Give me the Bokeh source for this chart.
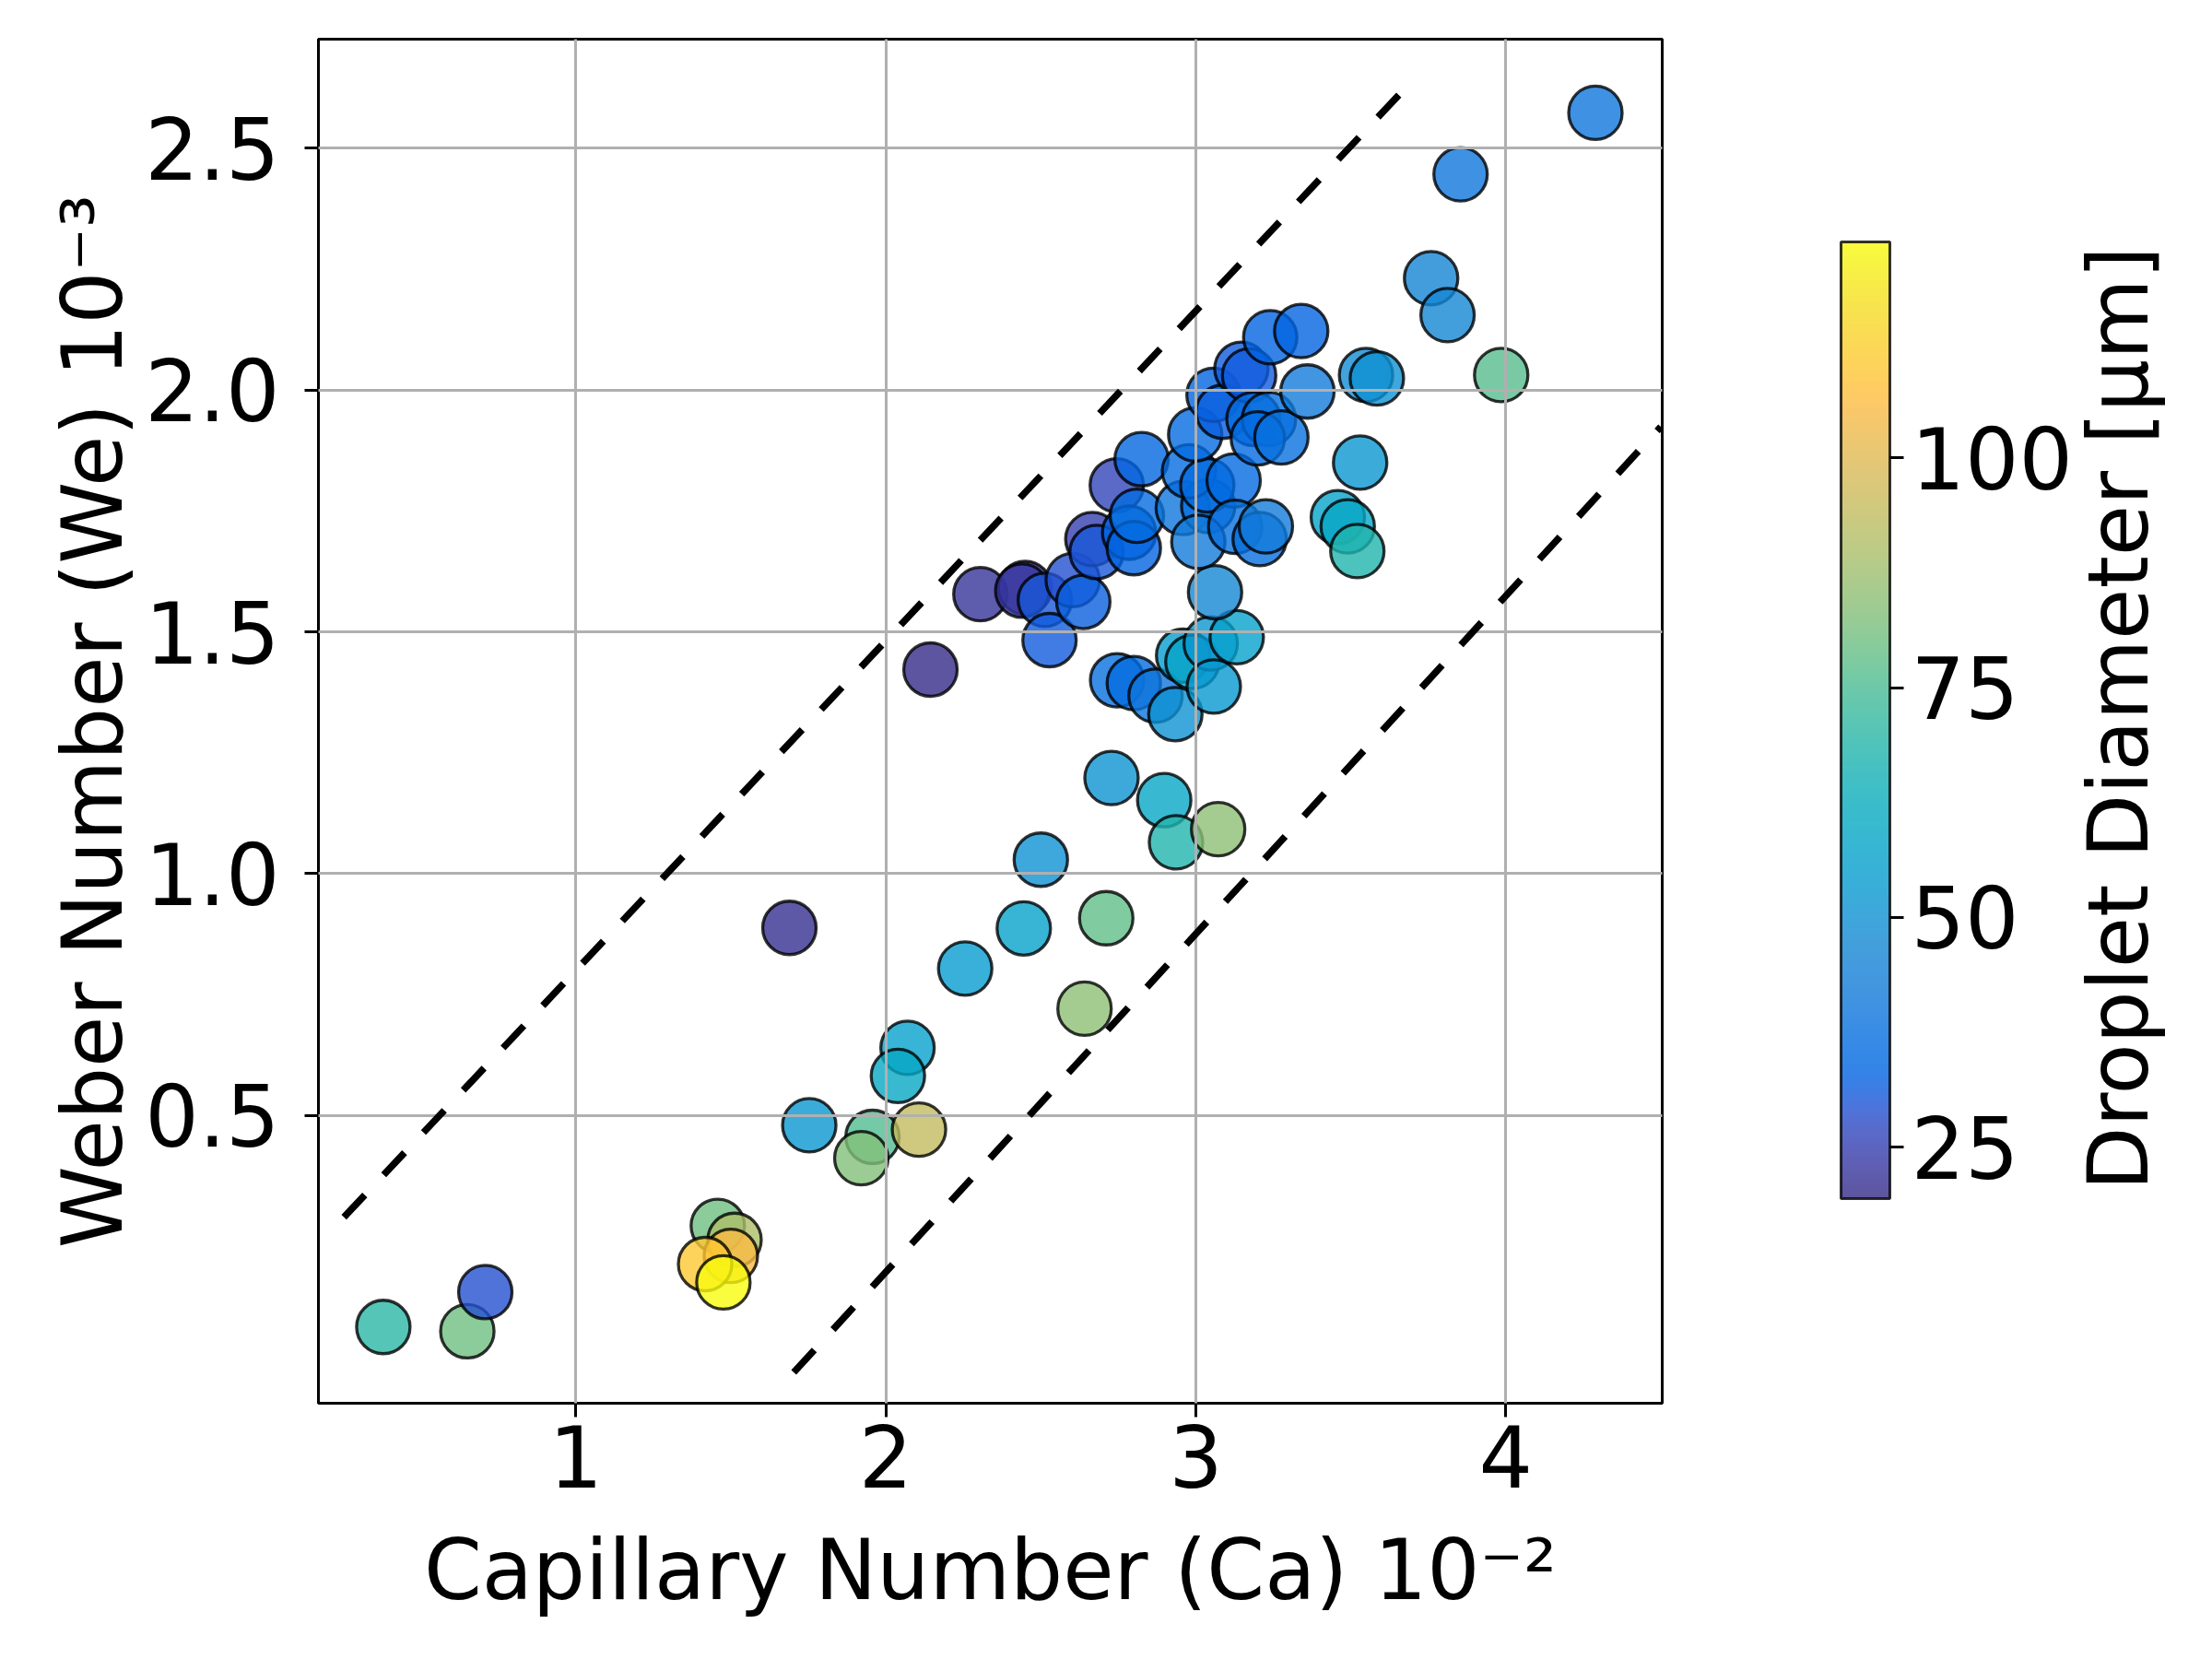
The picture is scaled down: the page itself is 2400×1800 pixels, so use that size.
import numpy as np
from bokeh.plotting import figure
from bokeh.models import (ColumnDataSource, LinearColorMapper, ColorBar, FixedTicker,
                          PrintfTickFormatter, Range1d)
from bokeh.core.properties import value
from bokeh.transform import transform
from bokeh.embed import file_html
from bokeh.resources import INLINE

# ---------------- data ----------------
capillary = [
    0.379, 0.650, 0.708, 1.458, 1.512, 1.500, 1.417, 1.476,
    1.689, 1.753, 1.957, 1.921, 2.107, 2.070, 2.039, 2.256, 2.445, 2.500,
    2.641, 2.711, 2.728, 2.898, 2.936, 3.072,
    2.144, 2.305, 2.449, 2.440, 2.513, 2.528, 2.603, 2.637, 2.666, 2.680,
    2.745, 2.825,
    2.746, 2.800, 2.870, 2.934, 2.959, 2.989, 3.048, 3.058, 3.132, 3.062,
    2.785, 2.800, 2.810, 2.958, 3.040, 2.978, 3.037, 3.122, 3.008, 3.127,
    3.206, 3.226, 2.998, 3.057, 3.087, 3.147, 3.172, 3.186, 3.236, 3.200,
    3.276, 3.240, 3.340, 3.360,
    3.549, 3.584, 3.530, 3.458, 3.490, 3.521, 3.759, 3.812, 3.854, 3.985,
    4.289,
]
weber = [
    0.063, 0.054, 0.135, 0.272, 0.243, 0.210, 0.193, 0.155,
    0.888, 0.480, 0.456, 0.412, 0.471, 0.640, 0.582, 0.804, 0.887, 1.029,
    0.721, 0.908, 1.198, 1.152, 1.065, 1.092,
    1.422, 1.578, 1.591, 1.585, 1.566, 1.483, 1.607, 1.562, 1.692, 1.665,
    1.803, 1.857,
    1.400, 1.394, 1.368, 1.330, 1.451, 1.438, 1.476, 1.387, 1.489, 1.582,
    1.705, 1.673, 1.740, 1.756, 1.760, 1.832, 1.803, 1.813, 1.686, 1.717,
    1.692, 1.718, 1.908, 1.990, 1.955, 2.044, 2.030, 1.940, 1.940, 1.900,
    1.902, 2.109, 2.122, 1.997,
    2.031, 2.024, 1.850, 1.737, 1.718, 1.667, 2.231, 2.155, 2.446, 2.031,
    2.573,
]
diameter = [
    70, 80, 29, 80, 90, 106, 110, 123.5,
    21, 52, 76, 83, 94, 56, 60, 54, 57, 50,
    85, 78, 51, 59, 68, 85,
    19.4, 22, 21, 23, 30, 31, 29, 32, 25, 30,
    26, 34,
    38, 36, 40, 50, 55, 58, 52, 53, 56, 47,
    33, 33, 36, 40, 38, 36, 36, 35, 42, 38,
    37, 42, 36, 33, 32, 31, 31, 36, 37, 35,
    38, 33, 33, 42,
    48, 50, 52, 58, 60, 68, 46, 47, 40, 77,
    40,
]
# dashed guide lines (end points)
upper_guide_ca = [0.252, 3.658]
upper_guide_we = [0.290, 2.612]
lower_guide_ca = [1.703, 4.500]
lower_guide_we = [-0.031, 1.924]

x_ticks = [1, 2, 3, 4]
y_ticks = [0.5, 1.0, 1.5, 2.0, 2.5]
cbar_ticks = [25, 50, 75, 100]
d_low, d_high = 19.4, 123.5
x_lo, x_hi = 0.1697, 4.5045
y_lo, y_hi = -0.0947, 2.7253
cbar_title = "Droplet Diameter [\u03bcm]"

# ---------------- parula colormap ----------------
PARULA = [[0.2081, 0.1663, 0.5292], [0.2116, 0.1898, 0.5777], [0.2123, 0.2138, 0.6270],
          [0.2081, 0.2386, 0.6771], [0.1959, 0.2645, 0.7279], [0.1707, 0.2919, 0.7792],
          [0.1253, 0.3242, 0.8303], [0.0591, 0.3598, 0.8683], [0.0117, 0.3875, 0.8820],
          [0.0060, 0.4086, 0.8828], [0.0165, 0.4266, 0.8786], [0.0329, 0.4430, 0.8720],
          [0.0498, 0.4586, 0.8641], [0.0629, 0.4737, 0.8554], [0.0723, 0.4887, 0.8467],
          [0.0779, 0.5040, 0.8384], [0.0793, 0.5200, 0.8312], [0.0749, 0.5375, 0.8263],
          [0.0641, 0.5570, 0.8240], [0.0488, 0.5772, 0.8228], [0.0343, 0.5966, 0.8199],
          [0.0265, 0.6137, 0.8135], [0.0239, 0.6287, 0.8038], [0.0231, 0.6418, 0.7913],
          [0.0228, 0.6535, 0.7768], [0.0267, 0.6642, 0.7607], [0.0384, 0.6743, 0.7436],
          [0.0590, 0.6838, 0.7254], [0.0843, 0.6928, 0.7062], [0.1133, 0.7015, 0.6859],
          [0.1453, 0.7098, 0.6646], [0.1801, 0.7177, 0.6424], [0.2178, 0.7250, 0.6193],
          [0.2586, 0.7317, 0.5954], [0.3022, 0.7376, 0.5712], [0.3482, 0.7424, 0.5473],
          [0.3953, 0.7459, 0.5244], [0.4420, 0.7481, 0.5033], [0.4871, 0.7491, 0.4840],
          [0.5300, 0.7491, 0.4661], [0.5709, 0.7485, 0.4494], [0.6099, 0.7473, 0.4337],
          [0.6473, 0.7456, 0.4188], [0.6834, 0.7435, 0.4044], [0.7184, 0.7411, 0.3905],
          [0.7525, 0.7384, 0.3768], [0.7858, 0.7356, 0.3633], [0.8185, 0.7327, 0.3498],
          [0.8507, 0.7299, 0.3360], [0.8824, 0.7274, 0.3217], [0.9139, 0.7258, 0.3063],
          [0.9450, 0.7261, 0.2886], [0.9739, 0.7314, 0.2666], [0.9938, 0.7455, 0.2403],
          [0.9990, 0.7653, 0.2164], [0.9955, 0.7861, 0.1967], [0.9880, 0.8066, 0.1794],
          [0.9789, 0.8271, 0.1633], [0.9697, 0.8481, 0.1475], [0.9626, 0.8705, 0.1309],
          [0.9589, 0.8949, 0.1132], [0.9598, 0.9218, 0.0948], [0.9661, 0.9514, 0.0755],
          [0.9763, 0.9831, 0.0538]]
_arr = np.array(PARULA)
_t64 = np.linspace(0, 1, len(PARULA))
palette = []
for t in np.linspace(0, 1, 256):
    rgb = [int(round(np.interp(t, _t64, _arr[:, k]) * 255)) for k in range(3)]
    palette.append("#%02x%02x%02x" % tuple(rgb))

FONT = "DejaVu Sans"
FS = "92px"
FS_LABEL = "90px"

FRAME_W, FRAME_H = 1458, 1480
source = ColumnDataSource(dict(ca=capillary, we=weber, d=diameter))
mapper = LinearColorMapper(palette=palette, low=d_low, high=d_high)

p = figure(frame_width=FRAME_W, frame_height=FRAME_H,
           min_border_left=345, min_border_right=589, min_border_top=42, min_border_bottom=270,
           x_range=Range1d(x_lo, x_hi), y_range=Range1d(y_lo, y_hi),
           output_backend="svg", toolbar_location=None)
p.background_fill_color = "white"
p.border_fill_color = "white"
p.outline_line_color = "black"
p.outline_line_width = 3

p.scatter("ca", "we", source=source, size=58, marker="circle",
          fill_color=transform("d", mapper), fill_alpha=0.8,
          line_color="black", line_alpha=0.8, line_width=3.3)

p.line(upper_guide_ca, upper_guide_we, line_color="black", line_width=7.5,
       line_dash="33 30", level="annotation")
p.line(lower_guide_ca, lower_guide_we, line_color="black", line_width=7.5,
       line_dash="33 30", level="annotation")

for g in (p.xgrid, p.ygrid):
    g.grid_line_color = "#b0b0b0"
    g.grid_line_width = 3
    g.level = "guide"
p.xgrid.ticker = FixedTicker(ticks=x_ticks)
p.ygrid.ticker = FixedTicker(ticks=y_ticks)

p.xaxis.ticker = FixedTicker(ticks=x_ticks)
p.yaxis.ticker = FixedTicker(ticks=y_ticks)
p.xaxis.formatter = PrintfTickFormatter(format="%d")
p.yaxis.formatter = PrintfTickFormatter(format="%.1f")
p.xaxis.axis_label = "Capillary Number (Ca) 10\u207b\u00b2"
p.yaxis.axis_label = "Weber Number (We) 10\u207b\u00b3"
for ax in (p.xaxis, p.yaxis):
    ax.axis_line_color = "black"
    ax.axis_line_width = 3
    ax.major_tick_line_width = 3
    ax.major_tick_out = 15
    ax.major_tick_in = 0
    ax.minor_tick_line_color = None
    ax.major_label_text_font = FONT
    ax.major_label_text_font_size = FS
    ax.major_label_text_color = "black"
    ax.axis_label_text_font = FONT
    ax.axis_label_text_font_size = FS_LABEL
    ax.axis_label_text_font_style = "normal"
    ax.axis_label_text_color = "black"
p.xaxis.major_label_standoff = 8
p.yaxis.major_label_standoff = 27
p.xaxis.axis_label_standoff = 34
p.yaxis.axis_label_standoff = 1

cbar = ColorBar(color_mapper=mapper, ticker=FixedTicker(ticks=cbar_ticks),
                location=(1652, 222), width=53, height=1038, padding=0, margin=0,
                scale_alpha=0.8, bar_line_color="black", bar_line_width=3,
                major_tick_in=0, major_tick_out=15, major_tick_line_color="black",
                major_tick_line_width=3, minor_tick_line_color=None,
                label_standoff=8, major_label_text_font=FONT,
                major_label_text_font_size=FS, major_label_text_color="black",
                background_fill_alpha=0, border_line_color=None)
p.add_layout(cbar, "center")

# colour-bar title, vertical, to the right of the bar
px_per_x = FRAME_W / (x_hi - x_lo)
px_per_y = FRAME_H / (y_hi - y_lo)
title_src = ColumnDataSource(dict(x=[x_lo + 1953 / px_per_x], y=[y_lo + 743 / px_per_y],
                                  t=[cbar_title]))
p.text(x="x", y="y", text="t", source=title_src, angle=np.pi / 2,
       text_align="center", text_baseline="alphabetic",
       text_font=value(FONT), text_font_size=value(FS_LABEL), text_color="black",
       level="annotation")

open("out.html", "w").write(file_html(p, INLINE))
